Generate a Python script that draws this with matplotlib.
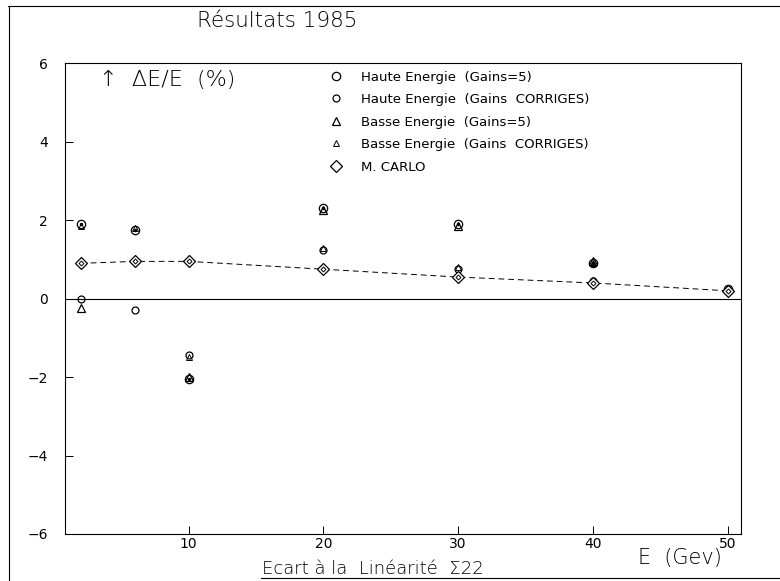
import numpy as np
import matplotlib
matplotlib.use('Agg')
import matplotlib.pyplot as plt
from matplotlib.lines import Line2D

plt.rcParams['font.family'] = ['DejaVu Sans']

# energies (GeV) and dE/E (%)
x_he5 = [2, 6, 10, 20, 30, 40, 50]
y_he5 = [1.9, 1.75, -2.05, 2.3, 1.9, 0.9, 0.25]
x_hec = [2, 6, 10, 20, 30, 40, 50]
y_hec = [0.0, -0.3, -1.45, 1.25, 0.75, 0.45, 0.2]
x_be5 = [2, 10, 20, 30, 40, 50]
y_be5 = [-0.25, -2.0, 2.25, 1.85, 0.95, 0.25]
x_bec = [2, 6, 10, 20, 30, 40, 50]
y_bec = [1.85, 1.8, -1.5, 1.3, 0.8, 0.9, 0.2]
x_mc = [2, 6, 10, 20, 30, 40, 50]
y_mc = [0.9, 0.95, 0.95, 0.75, 0.55, 0.4, 0.2]

labels = ['Haute Energie  (Gains=5)', 'Haute Energie  (Gains  CORRIGES)',
          'Basse Energie  (Gains=5)', 'Basse Energie  (Gains  CORRIGES)',
          'M. CARLO']
yticks = [-6, -4, -2, 0, 2, 4, 6]
xticks = [10, 20, 30, 40, 50]

fig = plt.figure(figsize=(7.8, 5.81), dpi=100)
ax = fig.add_axes([0.083, 0.081, 0.867, 0.81])

ax.axhline(0, color='black', lw=0.8)
ax.plot(x_mc, y_mc, color='black', lw=0.7, dashes=(6, 4))

h1, = ax.plot(x_he5, y_he5, 'o', ms=6, mfc='white', mec='black', mew=0.9, ls='none')
ax.plot(x_he5, y_he5, '.', ms=3, color='black', ls='none')
h2, = ax.plot(x_hec, y_hec, 'o', ms=5, mfc='none', mec='black', mew=0.9, ls='none')
h3, = ax.plot(x_be5, y_be5, '^', ms=6, mfc='none', mec='black', mew=0.9, ls='none')
h4, = ax.plot(x_bec, y_bec, '^', ms=5, mfc='none', mec='black', mew=0.7, ls='none')
h5, = ax.plot(x_mc, y_mc, 'D', ms=6, mfc='white', mec='black', mew=0.9, ls='none')
ax.plot(x_mc, y_mc, 'D', ms=2.5, mfc='none', mec='black', mew=0.7, ls='none')

ax.set_xlim(0.8, 51)
ax.set_ylim(-6, 6)
ax.set_yticks(yticks)
ax.set_xticks(xticks)
ax.tick_params(direction='in', length=6, width=0.7, labelsize=10,
               labelcolor='black')
ax.tick_params(axis='y', pad=12)
ax.tick_params(axis='x', pad=2)
for sp in ax.spines.values():
    sp.set_linewidth(0.8)

leg = ax.legend([h1, h2, h3, h4, h5], labels, loc='upper left',
                bbox_to_anchor=(0.416, 0.89), bbox_transform=fig.transFigure,
                frameon=False, fontsize=9.5, handlelength=0.8, handletextpad=1.5,
                labelspacing=0.72, borderpad=0)

fig.text(0.253, 0.963, 'Résultats 1985', fontsize=15.5, fontweight='light',
         ha='left', va='center')
ax.text(0.05, 0.985, '↑  ΔE/E  (%)', transform=ax.transAxes, fontsize=16,
        fontweight='light', ha='left', va='top')
fig.text(0.336, 0.02, 'Ecart à la  Linéarité  Σ22', fontsize=13,
         fontweight='light', ha='left', va='center')
fig.text(0.925, 0.04, 'E  (Gev)', fontsize=15, fontweight='light',
         ha='right', va='center')

# outer frame lines
fig.add_artist(Line2D([0.012, 0.012], [0.0, 0.99], color='black', lw=0.8))
fig.add_artist(Line2D([0.010, 1.0], [0.99, 0.99], color='black', lw=0.8))
fig.add_artist(Line2D([0.335, 1.0], [0.006, 0.006], color='black', lw=0.8))

fig.savefig('out.png', dpi=100)
